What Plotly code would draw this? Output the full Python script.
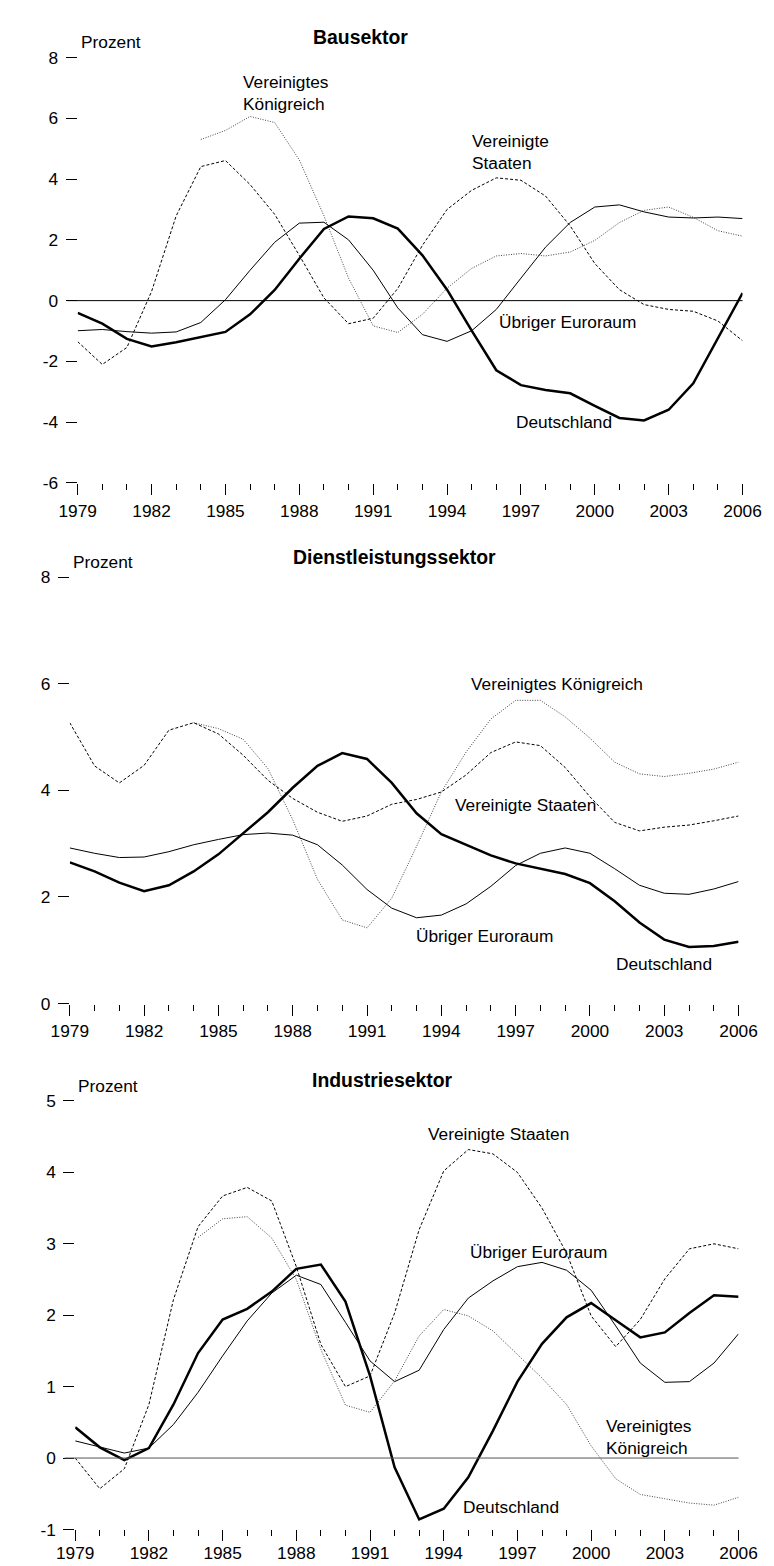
import plotly.graph_objects as go

# ---------------- data ----------------
years = list(range(1979, 2007))
years_uk = list(range(1984, 2007))

# Bausektor
bau_de = [-0.40, -0.76, -1.26, -1.51, -1.37, -1.21, -1.03, -0.45, 0.35, 1.38, 2.36, 2.77, 2.71, 2.37,
          1.49, 0.36, -0.99, -2.29, -2.78, -2.94, -3.05, -3.46, -3.86, -3.94, -3.59, -2.72, -1.26, 0.25]
bau_eu = [-0.99, -0.95, -1.02, -1.07, -1.03, -0.72, 0.03, 1.00, 1.92, 2.55, 2.58, 2.00, 1.00, -0.24,
          -1.12, -1.34, -0.99, -0.29, 0.74, 1.76, 2.57, 3.08, 3.15, 2.92, 2.75, 2.72, 2.75, 2.70]
bau_us = [-1.35, -2.10, -1.54, 0.30, 2.79, 4.41, 4.61, 3.82, 2.84, 1.49, 0.09, -0.76, -0.58, 0.40,
          1.82, 3.00, 3.63, 4.04, 3.96, 3.44, 2.46, 1.22, 0.36, -0.13, -0.29, -0.35, -0.67, -1.32]
bau_uk = [5.30, 5.60, 6.06, 5.86, 4.63, 2.79, 0.74, -0.83, -1.05, -0.45, 0.41, 1.06, 1.47, 1.55,
          1.47, 1.60, 1.98, 2.57, 2.97, 3.08, 2.74, 2.30, 2.12]

# Dienstleistungssektor
dl_de = [2.65, 2.48, 2.27, 2.11, 2.22, 2.48, 2.80, 3.19, 3.59, 4.05, 4.46, 4.70, 4.59, 4.14,
         3.57, 3.18, 2.98, 2.78, 2.63, 2.53, 2.43, 2.26, 1.92, 1.52, 1.20, 1.06, 1.08, 1.16]
dl_eu = [2.92, 2.82, 2.74, 2.75, 2.85, 2.98, 3.08, 3.17, 3.20, 3.16, 2.98, 2.60, 2.14, 1.79,
         1.61, 1.66, 1.87, 2.20, 2.59, 2.82, 2.92, 2.82, 2.53, 2.22, 2.07, 2.05, 2.15, 2.29]
dl_us = [5.27, 4.46, 4.14, 4.47, 5.13, 5.27, 5.06, 4.66, 4.19, 3.85, 3.59, 3.42, 3.52, 3.74,
         3.83, 3.97, 4.29, 4.71, 4.91, 4.84, 4.43, 3.88, 3.40, 3.24, 3.31, 3.35, 3.43, 3.52]
dl_uk = [5.27, 5.16, 4.96, 4.41, 3.45, 2.33, 1.57, 1.42, 1.98, 2.95, 3.97, 4.72, 5.34, 5.69,
         5.69, 5.38, 4.98, 4.53, 4.31, 4.26, 4.32, 4.40, 4.53]

# Industriesektor
ind_de = [0.43, 0.15, -0.03, 0.14, 0.75, 1.47, 1.94, 2.09, 2.33, 2.65, 2.71, 2.19, 1.15, -0.13,
          -0.86, -0.71, -0.27, 0.38, 1.07, 1.60, 1.97, 2.17, 1.93, 1.69, 1.76, 2.03, 2.28, 2.26]
ind_eu = [0.24, 0.16, 0.07, 0.14, 0.47, 0.92, 1.43, 1.92, 2.31, 2.56, 2.43, 1.90, 1.36, 1.07,
          1.23, 1.80, 2.24, 2.48, 2.68, 2.74, 2.63, 2.35, 1.85, 1.33, 1.06, 1.07, 1.33, 1.74]
ind_us = [0.00, -0.43, -0.15, 0.75, 2.22, 3.24, 3.67, 3.79, 3.60, 2.68, 1.59, 1.00, 1.15, 2.03,
          3.20, 4.02, 4.32, 4.26, 4.00, 3.50, 2.87, 1.99, 1.56, 1.94, 2.51, 2.93, 3.00, 2.93]
ind_uk = [3.09, 3.35, 3.38, 3.08, 2.50, 1.52, 0.74, 0.64, 1.08, 1.71, 2.08, 1.99, 1.78, 1.45,
          1.12, 0.75, 0.17, -0.29, -0.51, -0.57, -0.63, -0.66, -0.55]

titles = ["Bausektor", "Dienstleistungssektor", "Industriesektor"]
y_ranges = [[-6, 8], [0, 8], [-1, 5]]
y_tickvals = [[-6, -4, -2, 0, 2, 4, 6, 8], [0, 2, 4, 6, 8], [-1, 0, 1, 2, 3, 4, 5]]

# text labels: (text, x-year, y-value)
labels = [
    [("Vereinigtes<br>Königreich", 1985.62, 6.83), ("Vereinigte<br>Staaten", 1994.92, 4.89),
     ("Übriger Euroraum", 1996.04, -0.69), ("Deutschland", 1996.7, -4.0)],
    [("Vereinigtes Königreich", 1995.12, 6.0), ("Vereinigte Staaten", 1994.48, 3.73),
     ("Übriger Euroraum", 1992.88, 1.27), ("Deutschland", 2000.97, 0.75)],
    [("Vereinigte Staaten", 1993.27, 4.54), ("Übriger Euroraum", 1995.0, 2.88),
     ("Vereinigtes<br>Königreich", 2000.52, 0.30), ("Deutschland", 1994.71, -0.69)],
]

# ---------------- layout geometry (pixels) ----------------
W, H = 774, 1566
panels_px = [  # x_left, x_right, y_top, y_bottom
    (53.3, 752.5, 40.0, 471.0),
    (45.0, 748.3, 566.5, 998.3),
    (50.7, 748.3, 1097.0, 1531.0),
]
title_cx = [350.5, 386.5, 374.0]
x_standoff = [1, 1, -3]

FONT = "Liberation Sans, Arial, sans-serif"
FS = 17.3
fig = go.Figure()

series = [
    (bau_de, bau_eu, bau_us, bau_uk),
    (dl_de, dl_eu, dl_us, dl_uk),
    (ind_de, ind_eu, ind_us, ind_uk),
]

annotations = []
shapes = []
for i, (de, eu, us, uk) in enumerate(series):
    xa = "x" if i == 0 else f"x{i+1}"
    ya = "y" if i == 0 else f"y{i+1}"
    fig.add_trace(go.Scatter(x=years_uk, y=uk, mode="lines", xaxis=xa, yaxis=ya,
                             line=dict(color="#444444", width=1, dash="1px,1.5px"), showlegend=False))
    fig.add_trace(go.Scatter(x=years, y=us, mode="lines", xaxis=xa, yaxis=ya,
                             line=dict(color="black", width=1, dash="3px,2px"), showlegend=False))
    fig.add_trace(go.Scatter(x=years, y=eu, mode="lines", xaxis=xa, yaxis=ya,
                             line=dict(color="black", width=1), showlegend=False))
    fig.add_trace(go.Scatter(x=years, y=de, mode="lines", xaxis=xa, yaxis=ya,
                             line=dict(color="black", width=2.5), showlegend=False))

    xl, xr, yt, yb = panels_px[i]
    xdom = [xl / W, xr / W]
    ydom = [1 - yb / H, 1 - yt / H]
    lo, hi = y_ranges[i]
    ax_key = "xaxis" if i == 0 else f"xaxis{i+1}"
    ay_key = "yaxis" if i == 0 else f"yaxis{i+1}"
    tv = y_tickvals[i]
    fig.update_layout(**{
        ax_key: dict(domain=xdom, anchor=ya, range=[1979, 2006], tickmode="linear", tick0=1979, dtick=3,
                     ticks="outside", ticklen=11, tickwidth=1, tickcolor="black",
                     showline=False, showgrid=False, zeroline=False,
                     tickfont=dict(family=FONT, size=FS, color="black"),
                     ticklabelstandoff=x_standoff[i],
                     minor=dict(ticks="outside", tick0=1979, dtick=1, ticklen=6, tickwidth=1,
                                tickcolor="black", showgrid=False)),
        ay_key: dict(domain=ydom, anchor=xa, range=[lo, hi], tickmode="array", tickvals=tv,
                     ticktext=[str(v) for v in tv], ticks="outside", ticklen=11, tickwidth=1,
                     tickcolor="black", showline=False, showgrid=False, zeroline=False,
                     tickfont=dict(family=FONT, size=FS, color="black"), ticklabelstandoff=4),
    })

    # zero line (extends left to the start of the tick marks)
    if lo < 0:
        yz = ydom[0] + (0 - lo) / (hi - lo) * (ydom[1] - ydom[0])
        shapes.append(dict(type="line", xref="paper", yref="paper",
                           x0=(xl - 11) / W, x1=xr / W, y0=yz, y1=yz,
                           line=dict(color="black" if i == 0 else "#555555", width=1)))

    # title and unit
    annotations.append(dict(text=f"<b>{titles[i]}</b>", xref="paper", yref="paper",
                            x=title_cx[i] / W, y=1 - (yt - 21) / H, xanchor="center", yanchor="middle",
                            showarrow=False, font=dict(family=FONT, size=19.4, color="black")))
    annotations.append(dict(text="Prozent", xref="paper", yref="paper",
                            x=(xl + 1) / W, y=1 - (yt - 15.5) / H, xanchor="left", yanchor="middle",
                            showarrow=False, font=dict(family=FONT, size=FS, color="black")))
    for txt, lx, ly in labels[i]:
        annotations.append(dict(text=txt, xref=xa, yref=ya, x=lx, y=ly, xanchor="left",
                                yanchor="middle", align="left", showarrow=False,
                                font=dict(family=FONT, size=FS, color="black")))

fig.update_layout(width=W, height=H, margin=dict(l=0, r=0, t=0, b=0),
                  paper_bgcolor="white", plot_bgcolor="white",
                  annotations=annotations, shapes=shapes, showlegend=False)

fig.write_html("out.html")
